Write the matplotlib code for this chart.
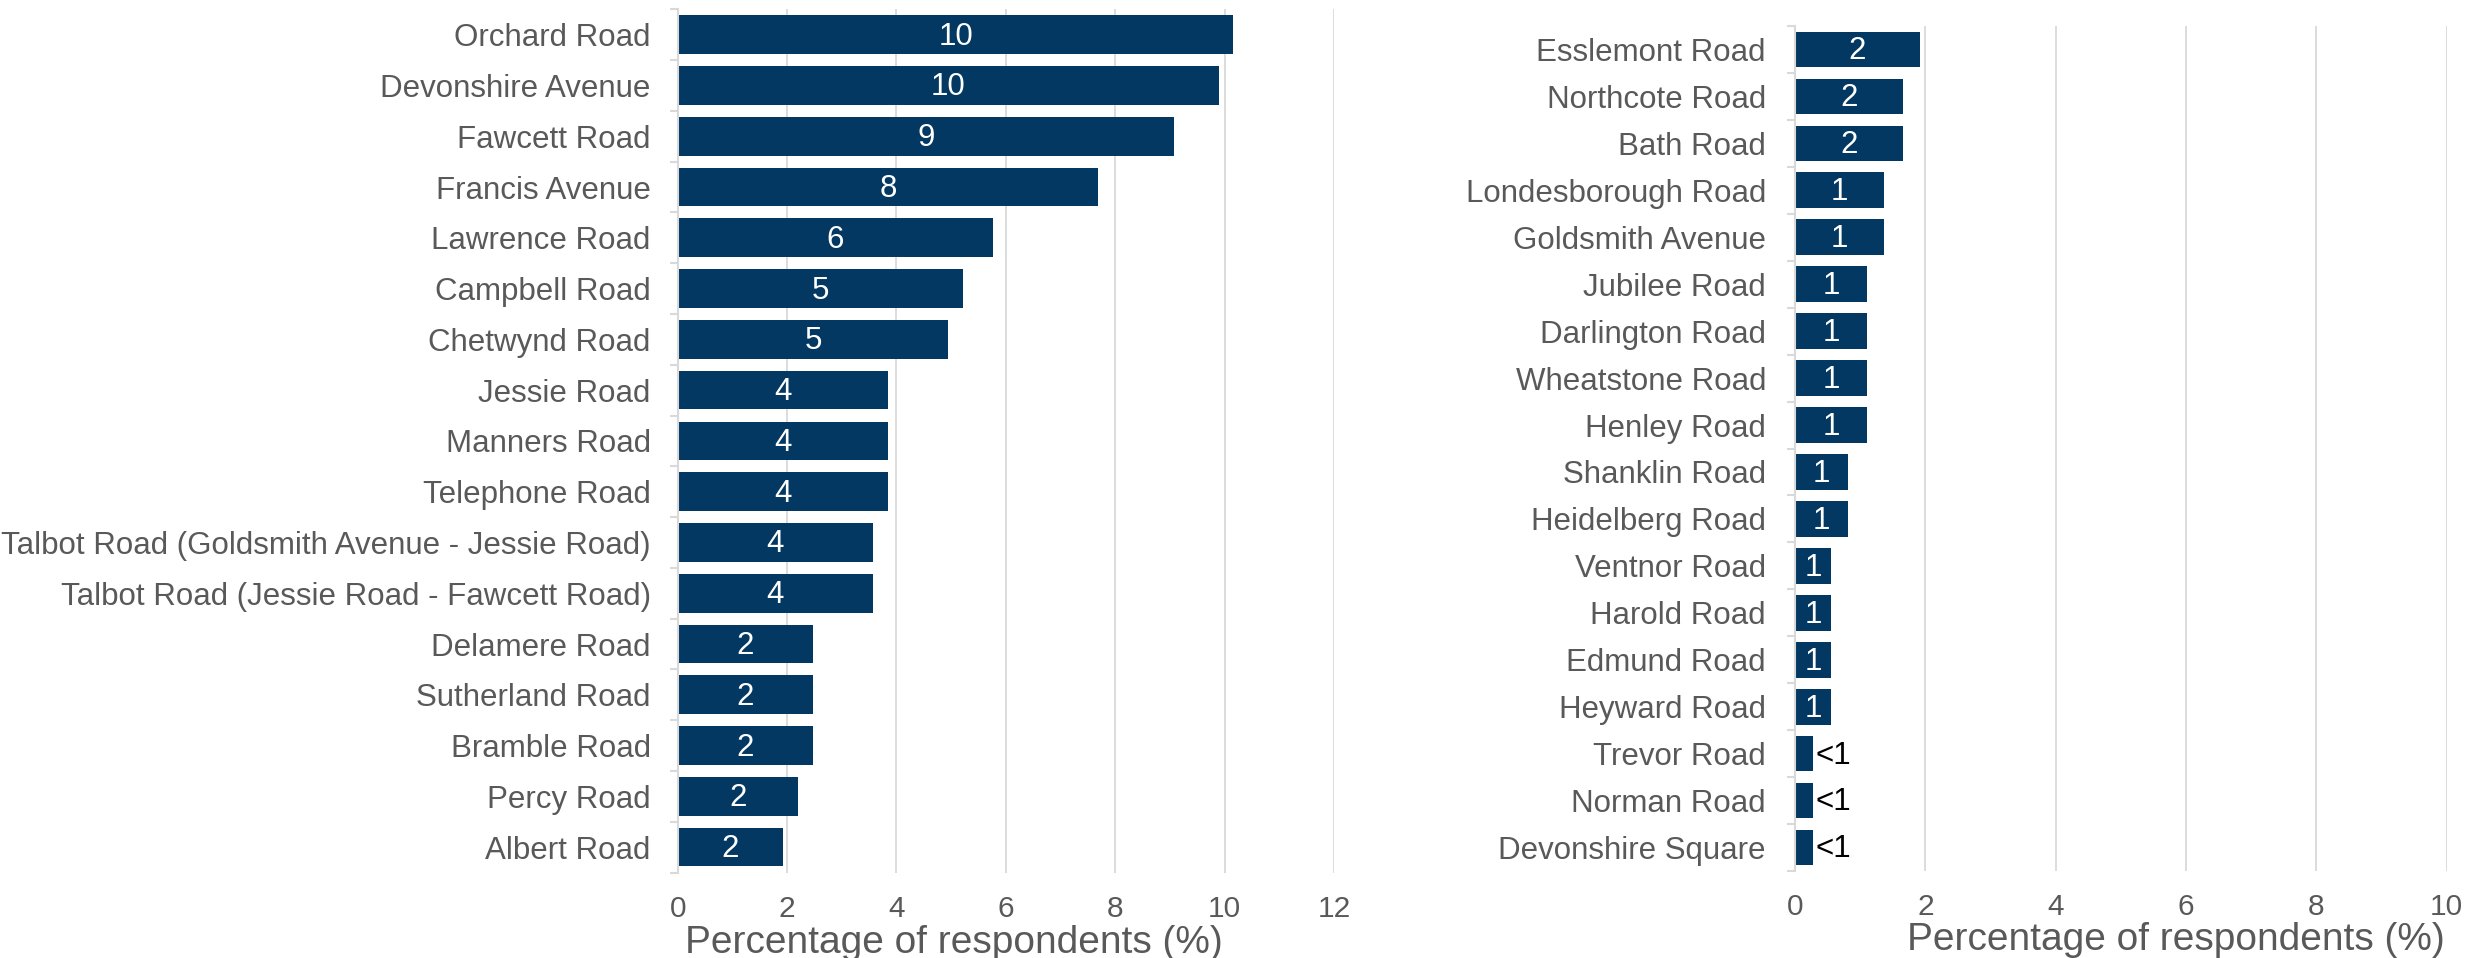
import numpy as np
from matplotlib import pyplot as plt
from matplotlib import font_manager
from matplotlib.ticker import FixedLocator

plt.rcParams["font.family"] = ["Liberation Sans", "DejaVu Sans"]

# condensed face for the road names / bar labels, if it is there
try:
    font_manager.findfont("Liberation Sans Narrow", fallback_to_default=False)
    NARROW = ["Liberation Sans Narrow", "DejaVu Sans"]
    FS_N = 27.5
except ValueError:
    NARROW = ["Liberation Sans", "DejaVu Sans"]
    FS_N = 22.5

# ---- data (percentage of respondents) ----
left_roads = ["Orchard Road", "Devonshire Avenue", "Fawcett Road", "Francis Avenue",
              "Lawrence Road", "Campbell Road", "Chetwynd Road", "Jessie Road",
              "Manners Road", "Telephone Road",
              "Talbot Road (Goldsmith Avenue - Jessie Road)",
              "Talbot Road (Jessie Road - Fawcett Road)",
              "Delamere Road", "Sutherland Road", "Bramble Road", "Percy Road", "Albert Road"]
left_pct = [10.16, 9.89, 9.07, 7.69, 5.77, 5.22, 4.95, 3.85, 3.85, 3.85,
            3.57, 3.57, 2.47, 2.47, 2.47, 2.20, 1.92]
left_labels = ["10", "10", "9", "8", "6", "5", "5", "4", "4", "4",
               "4", "4", "2", "2", "2", "2", "2"]

right_roads = ["Esslemont Road", "Northcote Road", "Bath Road", "Londesborough Road",
               "Goldsmith Avenue", "Jubilee Road", "Darlington Road", "Wheatstone Road",
               "Henley Road", "Shanklin Road", "Heidelberg Road", "Ventnor Road",
               "Harold Road", "Edmund Road", "Heyward Road", "Trevor Road",
               "Norman Road", "Devonshire Square"]
right_pct = [1.92, 1.65, 1.65, 1.37, 1.37, 1.10, 1.10, 1.10, 1.10, 0.82,
             0.82, 0.55, 0.55, 0.55, 0.55, 0.27, 0.27, 0.27]
right_labels = ["2", "2", "2", "1", "1", "1", "1", "1", "1", "1",
                "1", "1", "1", "1", "1", "<1", "<1", "<1"]

# ---- styling ----
BAR = "#023862"
TXT = "#595959"
GRID = "#D9D9D9"
FS_TICK = 21.5
FS_XLAB = 28

W, H = 2470, 958
fig = plt.figure(figsize=(W / 100, H / 100), dpi=100)


def px_axes(x0, x1, ytop, ybot):
    # pixel box -> figure fraction
    return fig.add_axes([x0 / W, (H - ybot) / H, (x1 - x0) / W, (ybot - ytop) / H])


def draw(ax, roads, pct, labels, xmax, xlab_x, label_pad_px):
    n = len(roads)
    y = np.arange(n)
    ax.barh(y, pct, height=0.76, color=BAR, zorder=2)
    ax.set_ylim(n - 0.5, -0.5)
    ax.set_xlim(0, xmax)

    ax.set_yticks(y)
    ax.set_yticklabels(roads, fontsize=FS_N, color=TXT, family=NARROW)
    ax.tick_params(axis="y", which="major", length=0, pad=label_pad_px * 0.72)
    ax.yaxis.set_minor_locator(FixedLocator(np.arange(n + 1) - 0.5))
    ax.tick_params(axis="y", which="minor", length=6, width=1.5, color=GRID)

    ax.set_xticks(np.arange(0, xmax + 1, 2))
    ax.tick_params(axis="x", length=0, pad=16, labelsize=FS_TICK, labelcolor=TXT)
    ax.grid(axis="x", color=GRID, linewidth=1.3, zorder=0)
    ax.set_axisbelow(True)

    for side in ["top", "right", "bottom"]:
        ax.spines[side].set_visible(False)
    ax.spines["left"].set_color(GRID)
    ax.spines["left"].set_linewidth(1.5)
    ax.spines["left"].set_zorder(3)

    for yi, v, lab in zip(y, pct, labels):
        if lab.startswith("<"):
            ax.text(v + xmax * 0.004, yi + 0.04, lab, ha="left", va="center",
                    fontsize=FS_N, color="black", family=NARROW)
        else:
            ax.text(v / 2, yi + 0.04, lab, ha="center", va="center",
                    fontsize=FS_N, color="white", family=NARROW)

    # axis title sits on the bottom edge of the figure, as in the source
    ax.text(xlab_x, -0.0935, "Percentage of respondents (%)", transform=ax.transAxes,
            ha="center", va="baseline", fontsize=FS_XLAB, color=TXT)


ax1 = px_axes(677.7, 1334, 9.3, 872.5)
draw(ax1, left_roads, left_pct, left_labels, 12, 0.421, 27)

ax2 = px_axes(1795, 2446.7, 26, 871)
draw(ax2, right_roads, right_pct, right_labels, 10, 0.585, 29)

fig.savefig("out.png", dpi=100)
